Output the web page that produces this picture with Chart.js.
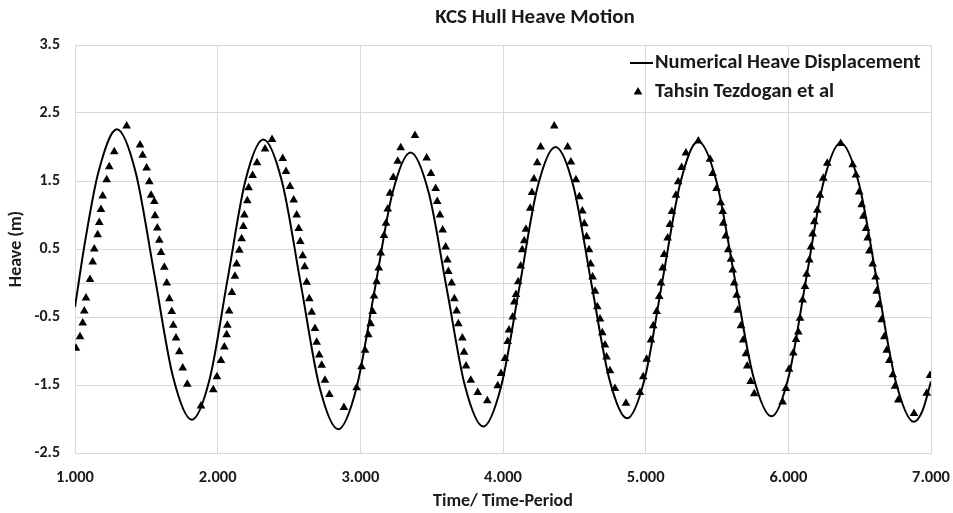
<!DOCTYPE html>
<html>
<head>
<meta charset="utf-8">
<script src="https://cdn.jsdelivr.net/npm/chart.js@4"></script>
<style>
  body { margin: 0; background: #fff; }
  #wrap { width: 953px; height: 513px; }
</style>
</head>
<body>
<div id="wrap"><canvas id="heaveChart" width="953" height="513"></canvas></div>
<script>
// ---- data ----
const xTicks = [1, 2, 3, 4, 5, 6, 7];
const yTicks = [-2.5, -1.5, -0.5, 0, 0.5, 1.5, 2.5, 3.5];

// numerical heave displacement (solid line)
const numTime = [1.000, 1.070, 1.163, 1.294, 1.425, 1.556, 1.687, 1.818, 1.944, 2.069, 2.195, 2.320, 2.451, 2.583, 2.714, 2.845,
  2.972, 3.099, 3.225, 3.352, 3.479, 3.607, 3.734, 3.861, 3.988, 4.115, 4.241, 4.368, 4.494, 4.619, 4.745, 4.870,
  4.995, 5.119, 5.244, 5.368, 5.497, 5.625, 5.754, 5.882, 6.003, 6.124, 6.245, 6.366, 6.495, 6.623, 6.752, 6.880, 6.940, 7.000];
const numHeave = [-0.35, 0.60, 1.62, 2.26, 1.63, 0.13, -1.38, -2.01, -1.41, 0.05, 1.51, 2.11, 1.49, -0.02, -1.53, -2.15,
  -1.55, -0.12, 1.32, 1.92, 1.33, -0.10, -1.52, -2.11, -1.51, -0.06, 1.40, 2.00, 1.42, 0.00, -1.41, -1.99,
  -1.39, 0.05, 1.48, 2.08, 1.49, 0.06, -1.37, -1.96, -1.37, 0.05, 1.47, 2.06, 1.46, 0.01, -1.44, -2.04, -1.88, -1.45];

// Tahsin Tezdogan et al (triangles)
const refTime = [1.007, 1.035, 1.054, 1.065, 1.077, 1.105, 1.124, 1.135, 1.159, 1.170, 1.182, 1.194, 1.222, 1.240, 1.275, 1.362,
  1.456, 1.474, 1.502, 1.521, 1.533, 1.556, 1.561, 1.577, 1.591, 1.603, 1.626, 1.643, 1.661, 1.678, 1.689, 1.708, 1.731, 1.755, 1.787, 1.883,
  1.969, 1.995, 2.023, 2.047, 2.063, 2.068, 2.080, 2.100, 2.121, 2.133, 2.152, 2.168, 2.180, 2.187, 2.208, 2.217, 2.245, 2.276, 2.332, 2.381,
  2.456, 2.479, 2.507, 2.533, 2.554, 2.568, 2.579, 2.596, 2.610, 2.624, 2.642, 2.659, 2.682, 2.694, 2.712, 2.729, 2.752, 2.783, 2.885,
  2.974, 3.008, 3.033, 3.056, 3.072, 3.086, 3.096, 3.114, 3.129, 3.143, 3.166, 3.180, 3.192, 3.208, 3.231, 3.262, 3.283, 3.383,
  3.465, 3.495, 3.528, 3.539, 3.558, 3.577, 3.598, 3.610, 3.617, 3.640, 3.659, 3.675, 3.687, 3.715, 3.727, 3.741, 3.774, 3.823, 3.890,
  3.963, 3.986, 4.014, 4.033, 4.042, 4.068, 4.079, 4.091, 4.107, 4.124, 4.135, 4.149, 4.161, 4.191, 4.203, 4.217, 4.240, 4.264, 4.359,
  4.453, 4.476, 4.511, 4.535, 4.556, 4.570, 4.586, 4.603, 4.614, 4.628, 4.645, 4.661, 4.680, 4.696, 4.715, 4.726, 4.750, 4.785, 4.862,
  4.960, 4.983, 5.007, 5.037, 5.053, 5.077, 5.095, 5.107, 5.119, 5.130, 5.154, 5.170, 5.184, 5.212, 5.228, 5.252, 5.282, 5.369,
  5.451, 5.469, 5.497, 5.526, 5.540, 5.544, 5.561, 5.579, 5.598, 5.610, 5.621, 5.638, 5.645, 5.668, 5.684, 5.703, 5.712, 5.736, 5.761,
  5.960, 5.983, 6.005, 6.035, 6.054, 6.070, 6.082, 6.100, 6.117, 6.128, 6.147, 6.159, 6.170, 6.182, 6.203, 6.222, 6.245, 6.273, 6.367,
  6.451, 6.474, 6.497, 6.514, 6.526, 6.545, 6.556, 6.568, 6.591, 6.612, 6.619, 6.635, 6.654, 6.673, 6.690, 6.708, 6.732, 6.748, 6.771, 6.881,
  6.970, 6.993];
const refHeave = [-0.96, -0.79, -0.59, -0.41, -0.22, 0.05, 0.31, 0.50, 0.71, 0.89, 1.08, 1.28, 1.52, 1.71, 1.93, 2.31,
  2.03, 1.88, 1.69, 1.49, 1.29, 1.20, 0.99, 0.81, 0.63, 0.45, 0.23, 0.00, -0.23, -0.42, -0.62, -0.81, -1.01, -1.25, -1.49, -1.81,
  -1.57, -1.38, -1.14, -0.94, -0.76, -0.62, -0.41, -0.14, 0.10, 0.28, 0.48, 0.65, 0.83, 1.00, 1.21, 1.40, 1.58, 1.77, 1.97, 2.11,
  1.83, 1.64, 1.42, 1.22, 1.00, 0.80, 0.61, 0.40, 0.24, 0.01, -0.23, -0.43, -0.67, -0.87, -1.06, -1.21, -1.43, -1.64, -1.83,
  -1.54, -1.23, -0.99, -0.76, -0.60, -0.42, -0.19, 0.02, 0.22, 0.44, 0.70, 0.88, 1.09, 1.32, 1.55, 1.79, 1.99, 2.17,
  1.84, 1.61, 1.39, 1.20, 1.00, 0.78, 0.53, 0.34, 0.17, 0.00, -0.23, -0.41, -0.60, -0.81, -1.02, -1.22, -1.43, -1.61, -1.73,
  -1.51, -1.33, -1.11, -0.86, -0.69, -0.50, -0.28, -0.17, 0.02, 0.25, 0.49, 0.62, 0.79, 1.10, 1.33, 1.53, 1.77, 2.00, 2.31,
  2.00, 1.78, 1.52, 1.27, 1.06, 0.87, 0.68, 0.49, 0.28, 0.09, -0.12, -0.35, -0.53, -0.73, -0.91, -1.09, -1.29, -1.55, -1.77,
  -1.61, -1.38, -1.12, -0.84, -0.63, -0.42, -0.20, 0.00, 0.22, 0.42, 0.66, 0.86, 1.05, 1.29, 1.49, 1.70, 1.91, 2.09,
  1.82, 1.61, 1.39, 1.18, 1.05, 0.88, 0.69, 0.49, 0.35, 0.19, 0.00, -0.18, -0.40, -0.63, -0.84, -1.04, -1.22, -1.45, -1.63,
  -1.75, -1.55, -1.27, -1.03, -0.83, -0.72, -0.52, -0.25, -0.05, 0.13, 0.34, 0.53, 0.72, 0.90, 1.07, 1.29, 1.54, 1.76, 2.05,
  1.74, 1.59, 1.34, 1.15, 0.98, 0.80, 0.66, 0.47, 0.28, 0.09, -0.12, -0.32, -0.54, -0.79, -0.99, -1.14, -1.35, -1.52, -1.72, -1.92,
  -1.62, -1.36];

const seriesNames = ['Numerical Heave Displacement', 'Tahsin Tezdogan et al'];
const chartTitle = 'KCS Hull Heave Motion';

// ---- chart ----
const FONT = "'Carlito', 'Open Sans', sans-serif";
const GRID = '#d9d9d9';
const TEXT = '#1a1a1a';

// title + in-plot legend (Excel style, top right)
const overlayPlugin = {
  id: 'overlay',
  afterDraw(chart) {
    const c = chart.ctx;
    c.save();
    c.fillStyle = TEXT;
    c.font = 'bold 21px ' + FONT;
    c.textAlign = 'center';
    c.textBaseline = 'middle';
    c.fillText(chartTitle, 535, 18);

    c.font = 'bold 20.5px ' + FONT;
    c.textAlign = 'left';
    c.strokeStyle = '#000';
    c.lineWidth = 2;
    c.beginPath();
    c.moveTo(630, 63);
    c.lineTo(653, 63);
    c.stroke();
    c.fillText(seriesNames[0], 655, 63);

    c.fillStyle = '#000';
    Chart.helpers.drawPoint(c, { pointStyle: 'triangle', radius: 5, rotation: 0, borderWidth: 0 }, 638, 92);
    c.fillStyle = TEXT;
    c.fillText(seriesNames[1], 655, 92);
    c.restore();
  }
};

new Chart(document.getElementById('heaveChart'), {
  type: 'scatter',
  data: {
    datasets: [
      {
        label: seriesNames[0],
        type: 'line',
        data: numTime.map((t, i) => ({ x: t, y: numHeave[i] })),
        borderColor: '#000',
        borderWidth: 2,
        pointRadius: 0,
        cubicInterpolationMode: 'monotone',
        fill: false,
        order: 2
      },
      {
        label: seriesNames[1],
        data: refTime.map((t, i) => ({ x: t, y: refHeave[i] })),
        pointStyle: 'triangle',
        pointRadius: 5,
        backgroundColor: '#000',
        borderColor: '#000',
        borderWidth: 0,
        order: 1
      }
    ]
  },
  options: {
    responsive: false,
    animation: false,
    layout: { padding: { left: 0, right: 22, top: 45, bottom: 0 } },
    plugins: { legend: { display: false }, title: { display: false }, tooltip: { enabled: false } },
    scales: {
      x: {
        type: 'linear', min: 1, max: 7,
        afterBuildTicks: s => { s.ticks = xTicks.map(v => ({ value: v })); },
        afterFit: s => { s.height = 60; s.paddingLeft = 0; s.paddingRight = 0; },
        ticks: { callback: v => v.toFixed(3), color: TEXT, font: { family: FONT, size: 16.5, weight: 'bold' }, padding: 15, maxRotation: 0 },
        grid: { color: GRID, lineWidth: 1, drawTicks: false },
        border: { color: GRID },
        title: { display: true, text: 'Time/ Time-Period', color: TEXT, font: { family: FONT, size: 18, weight: 'bold' }, padding: { top: 0, bottom: 1 } }
      },
      y: {
        type: 'linear', min: -2.5, max: 3.5,
        afterBuildTicks: s => { s.ticks = yTicks.map(v => ({ value: v })); },
        afterFit: s => { s.width = 75; s.paddingTop = 0; s.paddingBottom = 0; },
        ticks: { callback: v => (v === 0 ? '' : v.toFixed(1)), color: TEXT, font: { family: FONT, size: 16, weight: 'bold' }, padding: 15 },
        grid: { color: GRID, lineWidth: 1, drawTicks: false },
        border: { color: GRID },
        title: { display: true, text: 'Heave (m)', color: TEXT, font: { family: FONT, size: 18, weight: 'bold' }, padding: { top: 6, bottom: 0 } }
      }
    }
  },
  plugins: [overlayPlugin]
});
</script>
</body>
</html>
